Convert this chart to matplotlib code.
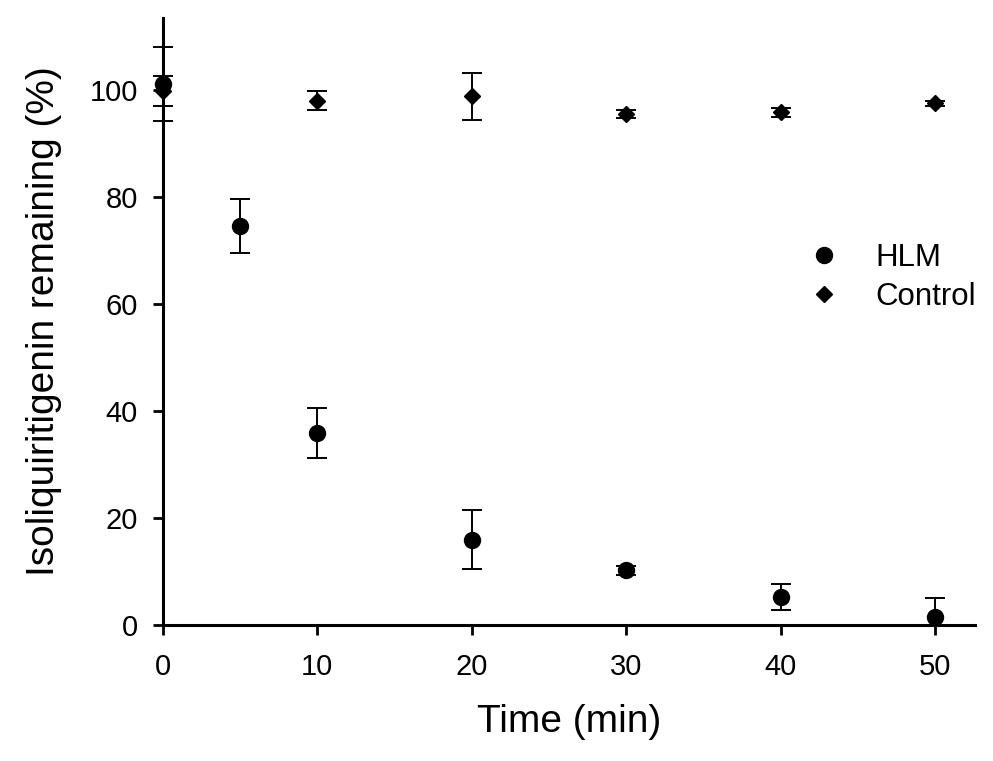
import matplotlib.pyplot as plt
from matplotlib.lines import Line2D
from matplotlib.patches import Rectangle

plt.rcParams["font.family"] = ["Liberation Sans", "DejaVu Sans"]

time_hlm = [0, 5, 10, 20, 30, 40, 50]
hlm = [101.2, 74.6, 35.9, 15.9, 10.2, 5.2, 1.5]
hlm_err = [7.0, 5.0, 4.6, 5.5, 0.8, 2.4, 3.5]

time_ctrl = [0, 10, 20, 30, 40, 50]
ctrl = [99.9, 98.1, 98.9, 95.6, 95.9, 97.6]
ctrl_err = [2.8, 1.7, 4.4, 0.8, 0.8, 0.5]

fig = plt.figure(figsize=(9.93, 7.61), dpi=100)
ax = fig.add_axes([0.164, 0.179, 0.818, 0.797])

# error bars may not go below the x axis, but points at x=0 sit on the y axis
clip_rect = Rectangle((-0.1, 0), 1.2, 1.2, transform=ax.transAxes)

hlm_eb = ax.errorbar(time_hlm, hlm, yerr=hlm_err, fmt="o", color="black",
                     markersize=11.5, elinewidth=1.4, capsize=7, capthick=1.4,
                     clip_on=False, zorder=3)
ctrl_eb = ax.errorbar(time_ctrl, ctrl, yerr=ctrl_err, fmt="D", color="black",
                      markersize=8.5, elinewidth=1.4, capsize=7, capthick=1.4,
                      clip_on=False, zorder=3)
for eb in (hlm_eb, ctrl_eb):
    for artist in list(eb.lines[1]) + list(eb.lines[2]):
        artist.set_clip_on(True)
        artist.set_clip_path(clip_rect)

ax.set_xlim(0, 52.6)
ax.set_ylim(0, 113.5)
ax.set_xticks([0, 10, 20, 30, 40, 50])
ax.set_yticks([0, 20, 40, 60, 80, 100])

for side in ["top", "right"]:
    ax.spines[side].set_visible(False)
for side in ["left", "bottom"]:
    ax.spines[side].set_linewidth(2.2)
ax.tick_params(axis="both", direction="out", length=7, width=2, labelsize=21)
ax.tick_params(axis="x", pad=13)
ax.tick_params(axis="y", pad=11)

ax.set_xlabel("Time (min)", fontsize=28, labelpad=17)
ax.set_ylabel("Isoliquiritigenin remaining (%)", fontsize=28, labelpad=20)

handles = [
    Line2D([], [], marker="o", linestyle="none", color="black", markersize=11.5),
    Line2D([], [], marker="D", linestyle="none", color="black", markersize=8.5),
]
ax.legend(handles, ["HLM", "Control"], loc="center left",
          bbox_to_anchor=(0.76, 0.573), frameon=False, fontsize=22.5,
          handlelength=1, handletextpad=1.15, labelspacing=0.3)

plt.savefig("out.png", dpi=100)
plt.close()
